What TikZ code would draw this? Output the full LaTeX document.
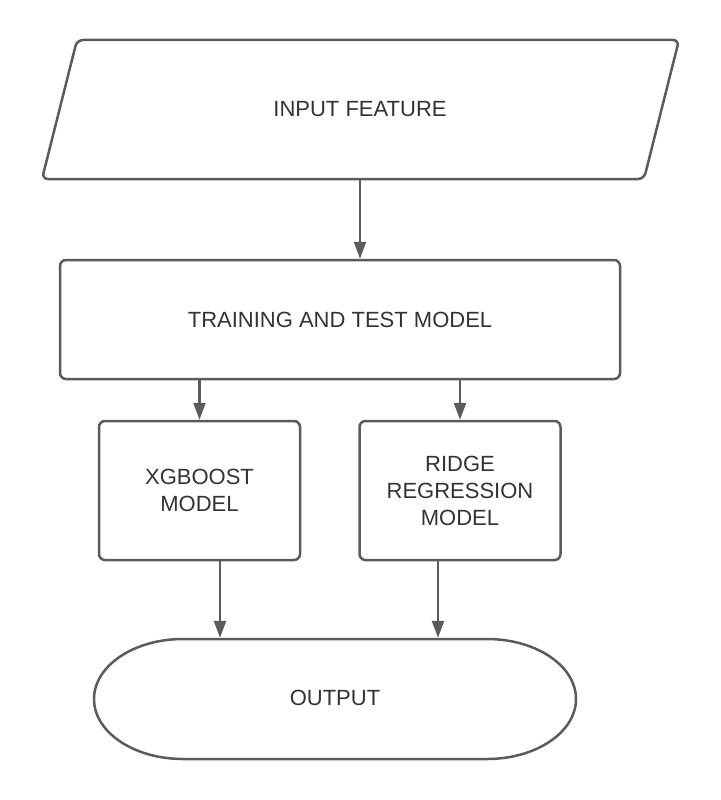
\documentclass[tikz,border=0pt]{standalone}
\usepackage{fontspec}
\setmainfont{Liberation Sans}
\usetikzlibrary{arrows.meta}
\definecolor{linegray}{HTML}{5B5B5B}
\definecolor{textgray}{HTML}{333333}
\begin{document}
\begin{tikzpicture}[x=1pt,y=-1pt,
  shapeline/.style={draw=linegray,line width=2.5pt},
  txt/.style={text=textgray,font=\fontsize{22}{27}\selectfont,align=center,inner sep=0pt},
  boxnode/.style={shapeline,rounded corners=6pt,txt},
  conn/.style={draw=linegray,line width=2.5pt,-{Triangle[width=12pt,length=17pt]}}]
\useasboundingbox (0,0) rectangle (720,800);
% input parallelogram
\draw[shapeline,rounded corners=6pt] (77,40) -- (679,40) -- (644,179) -- (42,179) -- cycle;
\node[txt,minimum width=560pt,minimum height=139pt] (inp) at (360,109.5) {INPUT FEATURE};
% training box
\node[boxnode,minimum width=560pt,minimum height=119pt] (train) at (340,319.5) {TRAINING AND TEST MODEL};
% model boxes
\node[boxnode,minimum width=201pt,minimum height=139pt] (xg) at (199.5,490.5) {XGBOOST\\MODEL};
\node[boxnode,minimum width=201pt,minimum height=139pt] (ridge) at (460,490.5) {RIDGE\\REGRESSION\\MODEL};
% output terminal
\draw[shapeline] (183,639) -- (487,639) arc[start angle=-90,end angle=90,x radius=89,y radius=60]
  -- (183,759) arc[start angle=90,end angle=270,x radius=89,y radius=60] -- cycle;
\node[txt,minimum width=482pt,minimum height=120pt] (out) at (335,698) {OUTPUT};
% connectors
\draw[conn] (inp.south) -- (inp.south |- train.north);
\draw[conn] (train.south -| xg.north) -- (xg.north);
\draw[conn] (train.south -| ridge.north) -- (ridge.north);
\draw[conn] ([xshift=20.5pt]xg.south) -- ([xshift=20.5pt]xg.south |- out.north);
\draw[conn] ([xshift=-22pt]ridge.south) -- ([xshift=-22pt]ridge.south |- out.north);
\end{tikzpicture}
\end{document}
